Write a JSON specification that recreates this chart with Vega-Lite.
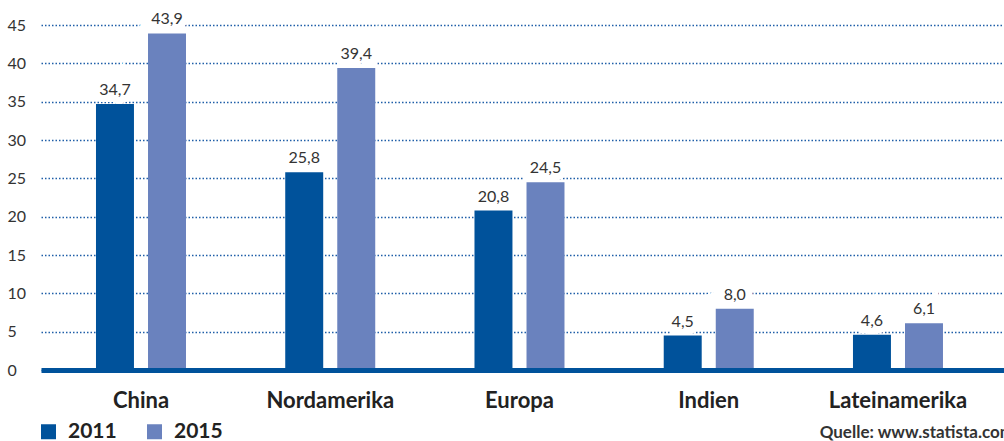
{
  "$schema": "https://vega.github.io/schema/vega-lite/v6.json",
  "width": 963,
  "height": 345,
  "autosize": "none",
  "padding": {"left": 41, "top": 25, "right": 0, "bottom": 71},
  "background": "white",
  "config": {
    "locale": {"number": {"decimal": ",", "thousands": ".", "grouping": [3], "currency": ["", " €"]}},
    "view": {"stroke": null},
    "font": "Lato"
  },
  "title": {
    "text": "Quelle: www.statista.com",
    "orient": "bottom",
    "anchor": "end",
    "fontSize": 17,
    "fontWeight": "bold",
    "color": "#333333",
    "dx": 10,
    "offset": -17
  },
  "data": {
    "values": [
      {"region": "China", "year": "2011", "value": 34.7},
      {"region": "China", "year": "2015", "value": 43.9},
      {"region": "Nordamerika", "year": "2011", "value": 25.8},
      {"region": "Nordamerika", "year": "2015", "value": 39.4},
      {"region": "Europa", "year": "2011", "value": 20.8},
      {"region": "Europa", "year": "2015", "value": 24.5},
      {"region": "Indien", "year": "2011", "value": 4.5},
      {"region": "Indien", "year": "2015", "value": 8.0},
      {"region": "Lateinamerika", "year": "2011", "value": 4.6},
      {"region": "Lateinamerika", "year": "2015", "value": 6.1}
    ]
  },
  "encoding": {
    "x": {
      "field": "region",
      "type": "nominal",
      "sort": ["China", "Nordamerika", "Europa", "Indien", "Lateinamerika"],
      "scale": {"paddingInner": 0.5244, "paddingOuter": 0.3065, "align": 0.474},
      "axis": {
        "title": null,
        "labelAngle": 0,
        "labelFontSize": 22,
        "labelFontWeight": "bold",
        "labelColor": "#222222",
        "labelPadding": 20,
        "ticks": false,
        "domainColor": "#00529b",
        "domainWidth": 5,
        "grid": false,
        "zindex": 1
      }
    },
    "xOffset": {
      "field": "year",
      "type": "nominal",
      "scale": {"paddingInner": 0.27, "paddingOuter": 0}
    },
    "y": {
      "field": "value",
      "type": "quantitative",
      "scale": {"domain": [0, 45], "nice": false},
      "axis": {
        "title": null,
        "values": [0, 5, 10, 15, 20, 25, 30, 35, 40, 45],
        "grid": true,
        "gridColor": "#1f5ea8",
        "gridDash": [1.5, 2],
        "gridWidth": 1.5,
        "domain": false,
        "ticks": false,
        "labelAlign": "left",
        "labelBaseline": "middle",
        "labelPadding": 34,
        "labelFontSize": 16,
        "labelColor": "#333333"
      }
    }
  },
  "layer": [
    {
      "mark": {"type": "text", "baseline": "bottom", "dy": -6, "fontSize": 16, "fill": "white", "stroke": "white", "strokeWidth": 14},
      "encoding": {"text": {"field": "value", "type": "quantitative", "format": ".1f"}}
    },
    {
      "mark": {"type": "bar"},
      "encoding": {
        "color": {
          "field": "year",
          "type": "nominal",
          "scale": {"domain": ["2011", "2015"], "range": ["#00529b", "#6a82be"]},
          "legend": {
            "title": null,
            "orient": "none",
            "legendX": -3,
            "legendY": 396,
            "direction": "horizontal",
            "symbolType": "square",
            "symbolSize": 225,
            "symbolStrokeWidth": 0,
            "symbolOpacity": 1,
            "labelFontSize": 21,
            "labelFontWeight": "bold",
            "labelColor": "#222222",
            "labelOffset": 9,
            "columnPadding": 27
          }
        }
      }
    },
    {
      "mark": {"type": "text", "baseline": "bottom", "dy": -6, "fontSize": 16, "color": "#333333"},
      "encoding": {"text": {"field": "value", "type": "quantitative", "format": ".1f"}}
    }
  ]
}
